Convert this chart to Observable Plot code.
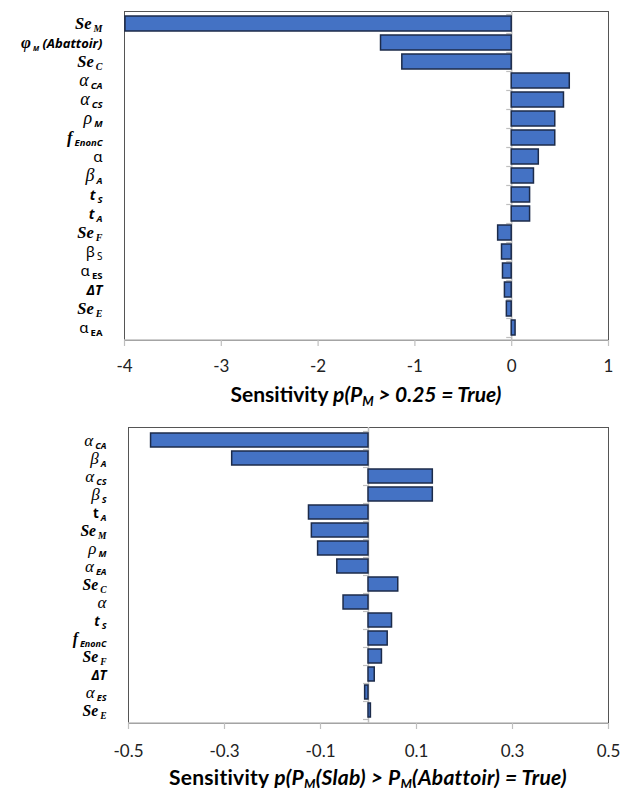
<!DOCTYPE html>
<html><head><meta charset="utf-8">
<script src="https://cdn.jsdelivr.net/npm/d3@7"></script>
<script src="https://cdn.jsdelivr.net/npm/@observablehq/plot@0.6"></script>
<style>
body{margin:0;background:#fff;}
#wrap{width:632px;}
.title{font-family:Lato,"Open Sans",sans-serif;font-weight:bold;font-size:21px;text-align:center;color:#000;line-height:22px;height:22px;padding-left:124px;padding-right:24px;white-space:nowrap;}
.title i{font-style:italic}
.title sub{font-size:13px;vertical-align:-4px;line-height:0}
svg{display:block}
</style></head><body><div id="wrap"></div>
<script>
// ---- Top chart data ----
const topCats = ["Se_M","phi_M","Se_C","a_CA","a_CS","rho_M","f_EnonC","a","b_A","t_S","t_A","Se_F","b_S","a_ES","dT","Se_E","a_EA"];
const topValues = [-3.99,-1.35,-1.13,0.60,0.54,0.45,0.45,0.28,0.23,0.19,0.19,-0.14,-0.10,-0.09,-0.07,-0.05,0.04];
const topTicks = [-4,-3,-2,-1,0,1];
const topLabels = [
  [["Se","SB"],["M","SS",1]],
  [["φ","GB"],["M","KS",1],[" (Abattoir)","T2"]],
  [["Se","SB"],["C","SS",1]],
  [["α","G"],["CA","K",1]],
  [["α","G"],["CS","K",1]],
  [["ρ","G"],["M","K",1]],
  [["f","SB"],["EnonC","K",1]],
  [["α","P"]],
  [["β","G"],["A","K",1]],
  [["t","T"],["S","K",1]],
  [["t","T"],["A","K",1]],
  [["Se","SB"],["F","SS",1]],
  [["β","P"],["S","PS",1]],
  [["α","P"],["ES","PK",1]],
  [["ΔT","T"]],
  [["Se","SB"],["E","SS",1]],
  [["α","P"],["EA","PK",1]]
];

// ---- Bottom chart data ----
const botCats = ["a_CA","b_A","a_CS","b_S","t_A","Se_M","rho_M","a_EA","Se_C","a","t_S","f_EnonC","Se_F","dT","a_ES","Se_E"];
const botValues = [-0.453,-0.284,0.134,0.134,-0.124,-0.118,-0.105,-0.065,0.062,-0.052,0.049,0.040,0.028,0.013,-0.007,0.005];
const botTicks = [-0.5,-0.3,-0.1,0.1,0.3,0.5];
const botLabels = [
  [["α","G"],["CA","K",1]],
  [["β","G"],["A","K",1]],
  [["α","G"],["CS","K",1]],
  [["β","G"],["S","K",1]],
  [["t","TU"],["A","K",1]],
  [["Se","SB"],["M","SS",1]],
  [["ρ","G"],["M","K",1]],
  [["α","G"],["EA","K",1]],
  [["Se","SB"],["C","SS",1]],
  [["α","G"]],
  [["t","T"],["S","K",1]],
  [["f","SB"],["EnonC","K",1]],
  [["Se","SB"],["F","SS",1]],
  [["ΔT","T"]],
  [["α","G"],["ES","K",1]],
  [["Se","SB"],["E","SS",1]]
];

const styles = {
  SB: {f:"Liberation Serif", w:"bold", s:"italic", z:16.5},
  SS: {f:"Liberation Serif", w:"bold", s:"italic", z:10},
  G:  {f:"Liberation Serif", w:"normal", s:"italic", z:18},
  GB: {f:"Liberation Serif", w:"bold", s:"italic", z:17},
  K:  {f:"Open Sans", w:"bold", s:"italic", z:9.5},
  KS: {f:"Open Sans", w:"bold", s:"italic", z:7},
  P:  {f:"Noto Sans", w:"normal", s:"normal", z:15},
  PS: {f:"Noto Sans", w:"normal", s:"normal", z:10},
  PK: {f:"Noto Sans", w:"bold", s:"normal", z:9.5},
  T:  {f:"Open Sans", w:"bold", s:"italic", z:14},
  TU: {f:"Open Sans", w:"bold", s:"normal", z:14},
  T2: {f:"Open Sans", w:"bold", s:"italic", z:13}
};

// Render mark: boundary tick marks on the zero axis and grey bottom axis line
function bandTicks(cats) {
  return (index, scales, values, dims) => {
    const x = scales.x, y = scales.y;
    const n = cats.length;
    const top = dims.marginTop, bottom = dims.height - dims.marginBottom;
    const step = (y && y.step) ? y.step() : (bottom - top) / n;
    const start = (y && y.step) ? y(cats[0]) - (y.paddingOuter ? y.paddingOuter() * step : 0) : top;
    const x0 = x(0);
    const g = d3.create("svg:g").attr("stroke", "#bfbfbf").attr("stroke-width", 1.2);
    for (let i = 0; i <= n; i++) {
      const yy = Math.round(start + i * step) + 0.5;
      g.append("line").attr("x1", x0 - 5).attr("x2", x0).attr("y1", yy).attr("y2", yy);
    }
    g.append("line").attr("x1", dims.marginLeft).attr("x2", dims.width - dims.marginRight)
      .attr("y1", bottom).attr("y2", bottom).attr("stroke-width", 1.5);
    return g.node();
  };
}

function chart(cats, vals, labels, domain, ticks, fmt, ml, mt, mb, height, pad, k) {
  const data = cats.map((c, i) => ({c, v: vals[i]}));
  const svg = Plot.plot({
    width: 632, height, marginLeft: ml, marginRight: 24, marginTop: mt, marginBottom: mb,
    style: {fontFamily: "Lato, 'Open Sans', sans-serif", fontSize: "17px", color: "#000", background: "#fff"},
    x: {domain, label: null},
    y: {domain: cats, paddingInner: 0.22, paddingOuter: 0.11, label: null},
    marks: [
      Plot.frame({stroke: "#555", strokeWidth: 1}),
      Plot.ruleX([0], {stroke: "#bfbfbf", strokeWidth: 1.5}),
      bandTicks(cats),
      Plot.barX(data, {x: "v", y: "c", fill: "#4472C4", stroke: "#1c2b4a", strokeWidth: 1.5}),
      Plot.axisX({ticks, tickFormat: fmt, tickSize: 6, tickPadding: pad, stroke: "#bfbfbf", fill: "#222", strokeWidth: 1.2}),
      Plot.axisY({tickSize: 0, tickPadding: 22, tickFormat: d => d})
    ]
  });
  d3.select(svg).selectAll('g[aria-label="y-axis tick label"] text').each(function() {
    const key = this.textContent;
    const idx = cats.indexOf(key);
    const parts = labels[idx];
    const t = d3.select(this);
    t.text(null).attr("text-anchor", "end").attr("fill", "#000");
    let shifted = 0;
    parts.forEach(([txt, st, sub]) => {
      const s = styles[st];
      const ts = t.append("tspan").text(txt)
        .attr("font-family", s.f).attr("font-weight", s.w).attr("font-style", s.s).attr("font-size", s.z * k);
      const want = sub ? 3 : 0;
      if (want !== shifted) { ts.attr("dy", want - shifted); shifted = want; }
      if (sub) ts.attr("dx", 2);
    });
  });
  return svg;
}

const wrap = document.getElementById("wrap");
wrap.appendChild(chart(topCats, topValues, topLabels, [-4, 1], topTicks, d => String(d), 124, 11, 40, 380, 13, 1));
const t1 = document.createElement("div");
t1.className = "title"; t1.style.marginTop = "3px";
t1.innerHTML = "Sensitivity <i>p(P<sub>M</sub> &gt; 0.25 = True)</i>";
wrap.appendChild(t1);
const b = chart(botCats, botValues, botLabels, [-0.5, 0.5], botTicks, d => d.toFixed(1), 128, 22, 40, 358, 15, 0.95);
wrap.appendChild(b);
const t2 = document.createElement("div");
t2.className = "title"; t2.style.marginTop = "3px"; t2.style.paddingLeft = "128px"; t2.style.letterSpacing = "0.25px";
t2.innerHTML = "Sensitivity <i>p(P<sub>M</sub>(Slab) &gt; P<sub>M</sub>(Abattoir) = True)</i>";
wrap.appendChild(t2);
</script></body></html>
